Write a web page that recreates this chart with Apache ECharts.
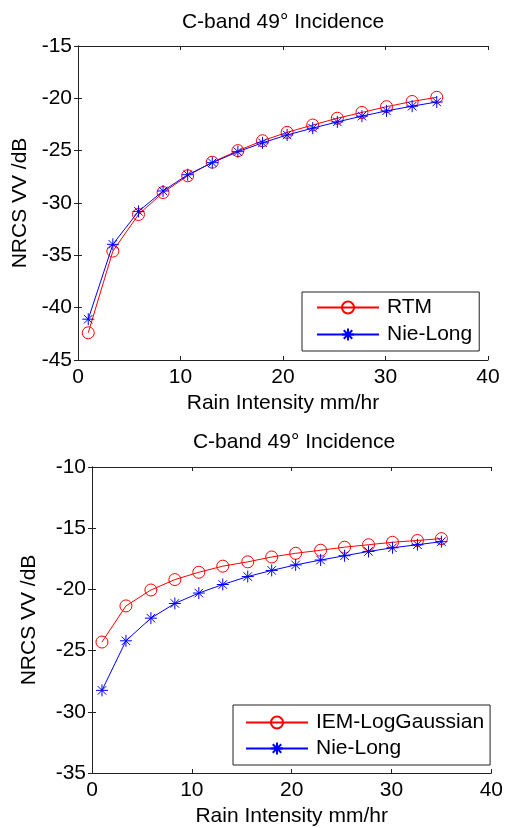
<!DOCTYPE html>
<html>
<head>
<meta charset="utf-8">
<title>C-band 49° Incidence</title>
<script src="https://cdn.jsdelivr.net/npm/echarts@6/dist/echarts.min.js"></script>
<style>
	html, body { margin: 0; padding: 0; background: #fff; }
	#chart { width: 506px; height: 828px; }
</style>
</head>
<body>
<div id="chart"></div>
<script>
/*数据*/
var rainRate = [1, 3.4, 5.9, 8.3, 10.7, 13.1, 15.6, 18, 20.4, 22.9, 25.3, 27.7, 30.1, 32.6, 35];
//上图
var rtmTop = [-42.4, -34.6, -31.1, -29.0, -27.4, -26.1, -25.0, -24.05, -23.25, -22.55, -21.9, -21.35, -20.8, -20.3, -19.9];
var nieLongTop = [-41.1, -33.95, -30.8, -28.85, -27.3, -26.15, -25.1, -24.25, -23.5, -22.85, -22.25, -21.7, -21.2, -20.75, -20.35];
//下图
var iemBottom = [-24.3, -21.35, -20.05, -19.2, -18.6, -18.1, -17.75, -17.35, -17.05, -16.8, -16.55, -16.35, -16.15, -16.0, -15.85];
var nieLongBottom = [-28.25, -24.2, -22.35, -21.15, -20.3, -19.6, -18.95, -18.45, -18.0, -17.6, -17.25, -16.9, -16.6, -16.35, -16.1];

var titleText = 'C-band 49° Incidence';
var xName = 'Rain Intensity mm/hr';
var yName = 'NRCS VV /dB';

var FONT = '"Liberation Sans", Arial, sans-serif';
var AXIS_COLOR = '#222';
var RED = '#ff0000';
var BLUE = '#0000ff';
//matlab的 * 标记
var STAR = 'path://M12,0L12,24M0,12L24,12M3.5,3.5L20.5,20.5M20.5,3.5L3.5,20.5';

function pairs(xs, ys) {
	var out = [];
	for(var i = 0; i < xs.length; i++) {
		out.push([xs[i], ys[i]]);
	}
	return out;
}

function makeX(grid, pos, showLabel, nameGap) {
	return {
		type: 'value',
		gridIndex: grid,
		position: pos,
		min: 0,
		max: 40,
		interval: 10,
		name: showLabel ? xName : '',
		nameLocation: 'middle',
		nameGap: nameGap,
		nameTextStyle: { color: '#000', fontSize: 21, fontFamily: FONT },
		axisLine: { show: true, lineStyle: { color: AXIS_COLOR, width: 1 } },
		axisTick: { show: true, inside: true, length: 4, lineStyle: { color: AXIS_COLOR } },
		axisLabel: { show: showLabel, color: '#000', fontSize: 21, fontFamily: FONT, margin: 7 },
		splitLine: { show: false }
	};
}

function makeY(grid, pos, showLabel, min, max, nameGap) {
	return {
		type: 'value',
		gridIndex: grid,
		position: pos,
		min: min,
		max: max,
		interval: 5,
		name: showLabel ? yName : '',
		nameLocation: 'middle',
		nameRotate: 90,
		nameGap: nameGap,
		nameTextStyle: { color: '#000', fontSize: 21, fontFamily: FONT },
		axisLine: { show: true, lineStyle: { color: AXIS_COLOR, width: 1 } },
		axisTick: { show: true, inside: true, length: 4, lineStyle: { color: AXIS_COLOR } },
		axisLabel: { show: showLabel, color: '#000', fontSize: 21, fontFamily: FONT, margin: 6 },
		splitLine: { show: false }
	};
}

function makeSeries(name, xIdx, yIdx, values, isStar) {
	var color = isStar ? BLUE : RED;
	return {
		name: name,
		type: 'line',
		xAxisIndex: xIdx,
		yAxisIndex: yIdx,
		data: pairs(rainRate, values),
		symbol: isStar ? STAR : 'circle',
		symbolSize: 12,
		showAllSymbol: true,
		lineStyle: { color: color, width: 1 },
		itemStyle: { color: 'rgba(0,0,0,0)', borderColor: color, borderWidth: 1 },
		emphasis: { disabled: true },
		z: isStar ? 3 : 2
	};
}

function legendBox(names, left, top, padding, gap) {
	return {
		data: names,
		orient: 'vertical',
		left: left,
		top: top,
		padding: padding,
		itemGap: gap,
		itemWidth: 62,
		itemHeight: 15,
		backgroundColor: '#fff',
		borderColor: AXIS_COLOR,
		borderWidth: 1,
		selectedMode: false,
		textStyle: { color: '#000', fontSize: 21, fontFamily: FONT, lineHeight: 21, padding: [0, 0, 0, 3] }
	};
}

var chart = echarts.init(document.getElementById('chart'), null, { renderer: 'canvas' });

var option = {
	animation: false,
	backgroundColor: '#fff',
	title: [
		{ text: titleText, left: 283, top: 12, textAlign: 'center', padding: 0,
			textStyle: { color: '#000', fontSize: 21, fontWeight: 'normal', fontFamily: FONT } },
		{ text: titleText, left: 294, top: 432, textAlign: 'center', padding: 0,
			textStyle: { color: '#000', fontSize: 21, fontWeight: 'normal', fontFamily: FONT } }
	],
	grid: [
		{ left: 78, top: 46, width: 410, height: 314 },
		{ left: 92, top: 467, width: 404, height: 308 }
	],
	xAxis: [
		makeX(0, 'bottom', true, 33),
		makeX(0, 'top', false, 0),
		makeX(1, 'bottom', true, 33),
		makeX(1, 'top', false, 0)
	],
	yAxis: [
		makeY(0, 'left', true, -45, -15, 46),
		makeY(0, 'right', false, -45, -15, 0),
		makeY(1, 'left', true, -35, -10, 52),
		makeY(1, 'right', false, -35, -10, 0)
	],
	legend: [
		legendBox(['RTM', 'Nie-Long'], 302, 292, [5, 7, 6, 14], 6),
		legendBox(['IEM-LogGaussian', 'Nie-Long'], 233, 705, [7, 6, 6, 12], 5)
	],
	series: [
		makeSeries('RTM', 0, 0, rtmTop, false),
		makeSeries('Nie-Long', 0, 0, nieLongTop, true),
		makeSeries('IEM-LogGaussian', 2, 2, iemBottom, false),
		makeSeries('Nie-Long', 2, 2, nieLongBottom, true)
	]
};

chart.setOption(option);
</script>
</body>
</html>
